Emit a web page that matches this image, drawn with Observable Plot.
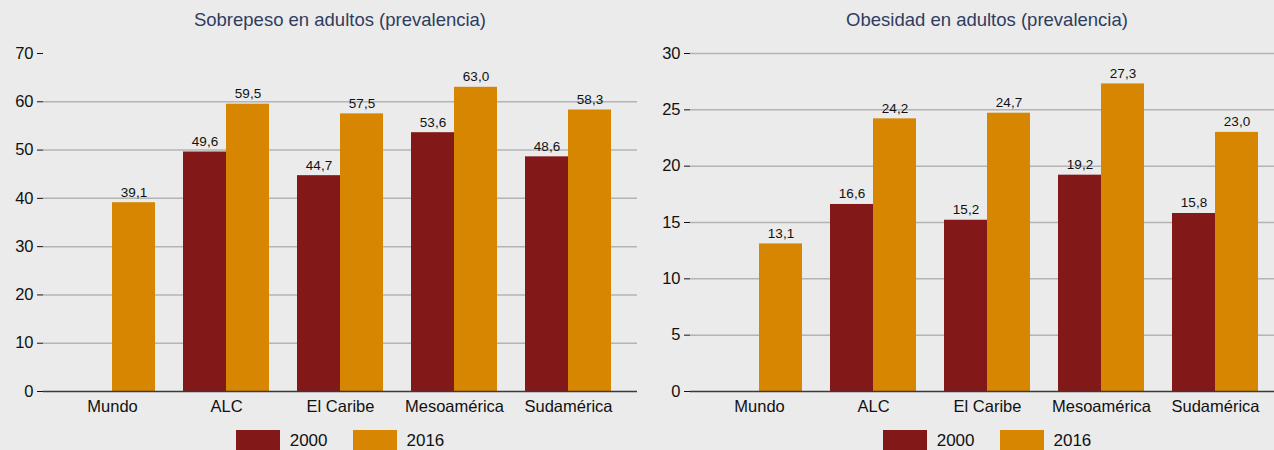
<!DOCTYPE html>
<html>
<head>
<meta charset="utf-8">
<script src="https://cdn.jsdelivr.net/npm/d3@7"></script>
<script src="https://cdn.jsdelivr.net/npm/@observablehq/plot@0.6"></script>
<style>
  html, body { margin: 0; padding: 0; background: #ebebeb; overflow: hidden; }
  body { font-family: "Liberation Sans", Arial, sans-serif; }
  #wrap { display: flex; width: 1294px; }
  .panel { width: 647px; flex: none; }
  .title { height: 33px; line-height: 40px; padding: 0 10px 0 43px; text-align: center;
           font-size: 18.5px; color: #2f3d5f; box-sizing: border-box; white-space: nowrap; }
  .legend { display: flex; justify-content: center; align-items: center; padding: 0 10px 0 43px;
            margin-top: 5px; font-size: 17px; color: #111; }
  .sw { width: 44px; height: 22px; display: inline-block; }
  .lab { margin-left: 10px; margin-right: 25px; }
  .lab:last-child { margin-right: 0; }
  svg { display: block; }
</style>
</head>
<body>
<div id="wrap"></div>
<script>
// ---- data ----
const regions = ["Mundo", "ALC", "El Caribe", "Mesoamérica", "Sudamérica"];
const years = ["2000", "2016"];
const sobrepeso2000 = [null, 49.6, 44.7, 53.6, 48.6];
const sobrepeso2016 = [39.1, 59.5, 57.5, 63.0, 58.3];
const obesidad2000 = [null, 16.6, 15.2, 19.2, 15.8];
const obesidad2016 = [13.1, 24.2, 24.7, 27.3, 23.0];
const sobrepesoTicks = [0, 10, 20, 30, 40, 50, 60, 70];
const sobrepesoGrid = [10, 20, 30, 40, 50, 60];
const obesidadTicks = [0, 5, 10, 15, 20, 25, 30];
const obesidadGrid = [5, 10, 15, 20, 25, 30];
const titles = ["Sobrepeso en adultos (prevalencia)", "Obesidad en adultos (prevalencia)"];

// ---- styles ----
const colors = ["#831818", "#d68600"];
const fmt = v => v.toFixed(1).replace(".", ",");

function rowsFor(v2000, v2016) {
  const r2000 = regions.map((region, i) => ({region, year: years[0], value: v2000[i]}));
  const r2016 = regions.map((region, i) => ({region, year: years[1], value: v2016[i]}));
  return [r2000, r2016];
}

function makePlot(v2000, v2016, ticks, grid, ymax, half) {
  const [r2000, r2016] = rowsFor(v2000, v2016);
  const q = half / 2;
  return Plot.plot({
    width: 647,
    height: 392,
    marginTop: 20,
    marginBottom: 34,
    marginLeft: 43,
    marginRight: 10,
    style: {background: "transparent", fontSize: "16.5px", fontFamily: "'Liberation Sans', Arial, sans-serif", color: "#111"},
    x: {domain: regions, paddingInner: 0.242, paddingOuter: 0.213, tickSize: 0, tickPadding: 9, label: null},
    y: {domain: [0, ymax], ticks: ticks, tickSize: 6, tickPadding: 4, label: null, tickFormat: d => String(d)},
    color: {domain: years, range: colors},
    marks: [
      Plot.ruleY(grid, {stroke: "#b4b4b4", strokeWidth: 1.5}),
      Plot.barY(r2000.filter(d => d.value != null), {x: "region", y: "value", fill: "year", insetRight: half}),
      Plot.barY(r2016.filter(d => d.value != null), {x: "region", y: "value", fill: "year", insetLeft: half}),
      Plot.ruleY([0], {stroke: "#3a3a3a", strokeWidth: 1.5}),
      Plot.text(r2000.filter(d => d.value != null), {x: "region", y: "value", text: d => fmt(d.value), dx: -q, dy: -6, lineAnchor: "bottom", fontSize: 13.5, fill: "#111"}),
      Plot.text(r2016.filter(d => d.value != null), {x: "region", y: "value", text: d => fmt(d.value), dx: q, dy: -6, lineAnchor: "bottom", fontSize: 13.5, fill: "#111"})
    ]
  });
}

function panel(title, v2000, v2016, ticks, grid, ymax) {
  const div = document.createElement("div");
  div.className = "panel";
  const t = document.createElement("div");
  t.className = "title";
  t.textContent = title;
  div.appendChild(t);
  const probe = makePlot(v2000, v2016, ticks, grid, ymax, 0);
  const bw = probe.scale("x").bandwidth;
  div.appendChild(makePlot(v2000, v2016, ticks, grid, ymax, bw / 2));
  const lg = document.createElement("div");
  lg.className = "legend";
  years.forEach((y, i) => {
    const s = document.createElement("span");
    s.className = "sw";
    s.style.background = colors[i];
    const l = document.createElement("span");
    l.className = "lab";
    l.textContent = y;
    lg.appendChild(s);
    lg.appendChild(l);
  });
  div.appendChild(lg);
  return div;
}

const wrap = document.getElementById("wrap");
wrap.appendChild(panel(titles[0], sobrepeso2000, sobrepeso2016, sobrepesoTicks, sobrepesoGrid, 70));
wrap.appendChild(panel(titles[1], obesidad2000, obesidad2016, obesidadTicks, obesidadGrid, 30));
</script>
</body>
</html>
